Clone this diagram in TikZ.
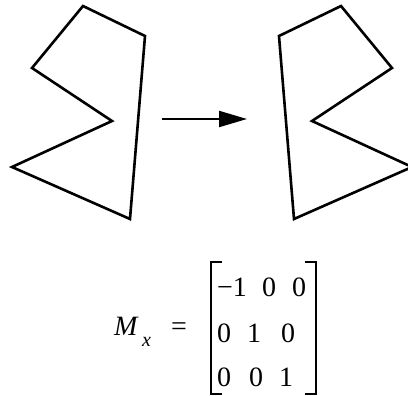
\documentclass[tikz,border=0pt]{standalone}
\usepackage{fontspec}
\setmainfont{Liberation Serif}
\usetikzlibrary{arrows.meta}
\begin{document}
\begin{tikzpicture}[x=1pt,y=-1pt,
  poly/.style={line width=2.6pt, line join=miter},
  conn/.style={line width=2.2pt, -{Triangle[length=28pt,width=16pt]}},
  brack/.style={line width=1.4pt},
  entry/.style={inner sep=0pt, anchor=base west, font=\fontsize{28}{30}\selectfont},
  subent/.style={inner sep=0pt, anchor=base west, font=\fontsize{20}{22}\selectfont\itshape}]
\useasboundingbox (0,0) rectangle (408,396);
\clip (0,0) rectangle (408,396);
% left polygon
\draw[poly] (83,6) -- (145,36) -- (130,219) -- (12,167) -- (112,121) -- (32,68) -- cycle;
% right polygon (mirror)
\draw[poly] (341,6) -- (279,36) -- (294,219) -- (412,167) -- (312,121) -- (392,68) -- cycle;
% arrow
\coordinate (as) at (162,119);
\coordinate (ae) at (247,119);
\draw[conn] (as) -- (ae);
% M_x =
\node[entry, font=\fontsize{28}{30}\selectfont\itshape] (M) at (114,335) {M};
\node[subent] (sx) at (142,347) {x};
\node[entry] (eq) at (171,335) {=};
% brackets
\coordinate (lt) at (211,262);
\coordinate (lb) at (211,394);
\coordinate (rt) at (316,262);
\coordinate (rb) at (316,394);
\draw[brack] ([xshift=11pt]lt) -- (lt) -- (lb) -- ([xshift=11pt]lb);
\draw[brack] ([xshift=-11pt]rt) -- (rt) -- (rb) -- ([xshift=-11pt]rb);
% entries
\node[entry] (a11) at (217,297) {−1};
\node[entry] (a12) at (262,297) {0};
\node[entry] (a13) at (292,297) {0};
\node[entry] (a21) at (217,343) {0};
\node[entry] (a22) at (247,343) {1};
\node[entry] (a23) at (281,343) {0};
\node[entry] (a31) at (217,387) {0};
\node[entry] (a32) at (249,387) {0};
\node[entry] (a33) at (279,387) {1};
\end{tikzpicture}
\end{document}
